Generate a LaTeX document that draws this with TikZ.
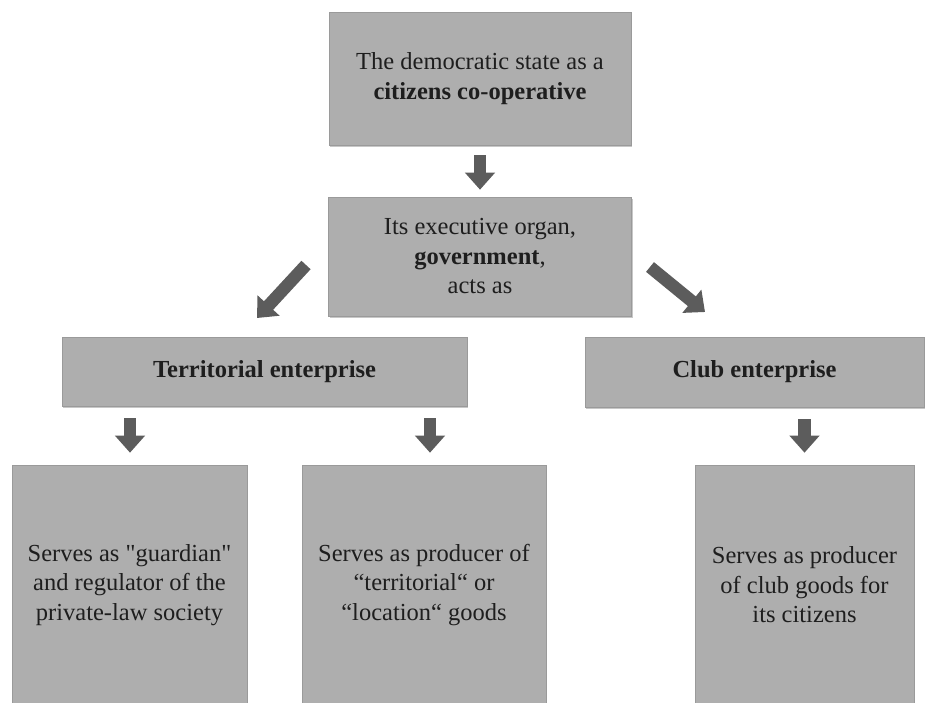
\documentclass[tikz,border=0pt]{standalone}
\usepackage{fontspec}
\setmainfont{LiberationSerif}[Extension=.ttf, UprightFont=*-Regular, BoldFont=*-Bold, ItalicFont=*-Italic, BoldItalicFont=*-BoldItalic]
\usetikzlibrary{arrows.meta,shadows,calc}
\definecolor{boxgray}{HTML}{AEAEAE}
\definecolor{boxline}{HTML}{9A9A9A}
\definecolor{arrowgray}{HTML}{5C5C5C}
\definecolor{txt}{HTML}{1E1E1E}
\begin{document}
\begin{tikzpicture}[x=1pt,y=-1pt,
  box/.style={draw=boxline, line width=0.6pt, fill=boxgray, text=txt,
    align=center, inner sep=0pt,
    font=\fontsize{24.5}{29.5}\selectfont,
    drop shadow={shadow xshift=1.2pt, shadow yshift=-2pt, fill=black, opacity=0.22}},
  blockarrow/.style={arrowgray, line width=12.5pt,
    -{Triangle[width=29pt,length=17pt]}}]
\useasboundingbox (0,0) rectangle (926,702);
\clip (0,0) rectangle (926,702);

\node[box, minimum width=302pt, minimum height=133pt] (top) at (480,78.5)
  {The democratic state as a\\ \textbf{citizens co-operative}};
\node[box, minimum width=303pt, minimum height=119pt] (gov) at (480,256.5)
  {Its executive organ,\\ \textbf{government},\\ acts as};
\node[box, minimum width=405pt, minimum height=69pt] (terr) at (264.5,371.5)
  {\textbf{Territorial enterprise}};
\node[box, minimum width=339pt, minimum height=70pt] (club) at (754.5,372)
  {\textbf{Club enterprise}};
\node[box, minimum width=235pt, minimum height=240pt] (b1) at (129.5,585)
  {Serves as \textquotedbl guardian\textquotedbl\\ and regulator of the\\ private-law society};
\node[box, minimum width=244pt, minimum height=240pt] (b2) at (424,585)
  {Serves as producer of\\ “territorial“ or\\ “location“ goods};
\node[box, minimum width=219pt, minimum height=240pt] (b3) at (804.5,585)
  {Serves as producer\\ of club goods for\\ its citizens};

% arrow end points
\coordinate (a0s) at ($(top.south)+(0,10)$);
\coordinate (a0e) at ($(gov.north)+(0,-7)$);
\coordinate (l1s) at (306,265);
\coordinate (l1e) at (257,318);
\coordinate (r1s) at (650,267);
\coordinate (r1e) at (705,312);
\coordinate (d1s) at ($(terr.south -| b1.north)+(0.5,12)$);
\coordinate (d1e) at ($(b1.north)+(0.5,-12)$);
\coordinate (d2s) at ($(terr.south -| b2.north)+(6,12)$);
\coordinate (d2e) at ($(b2.north)+(6,-12)$);
\coordinate (d3s) at ($(club.south -| b3.north)+(0,12)$);
\coordinate (d3e) at ($(b3.north)+(0,-12)$);

\draw[blockarrow] (a0s) -- (a0e);
\draw[blockarrow] (l1s) -- (l1e);
\draw[blockarrow] (r1s) -- (r1e);
\draw[blockarrow] (d1s) -- (d1e);
\draw[blockarrow] (d2s) -- (d2e);
\draw[blockarrow] (d3s) -- (d3e);
\end{tikzpicture}
\end{document}
